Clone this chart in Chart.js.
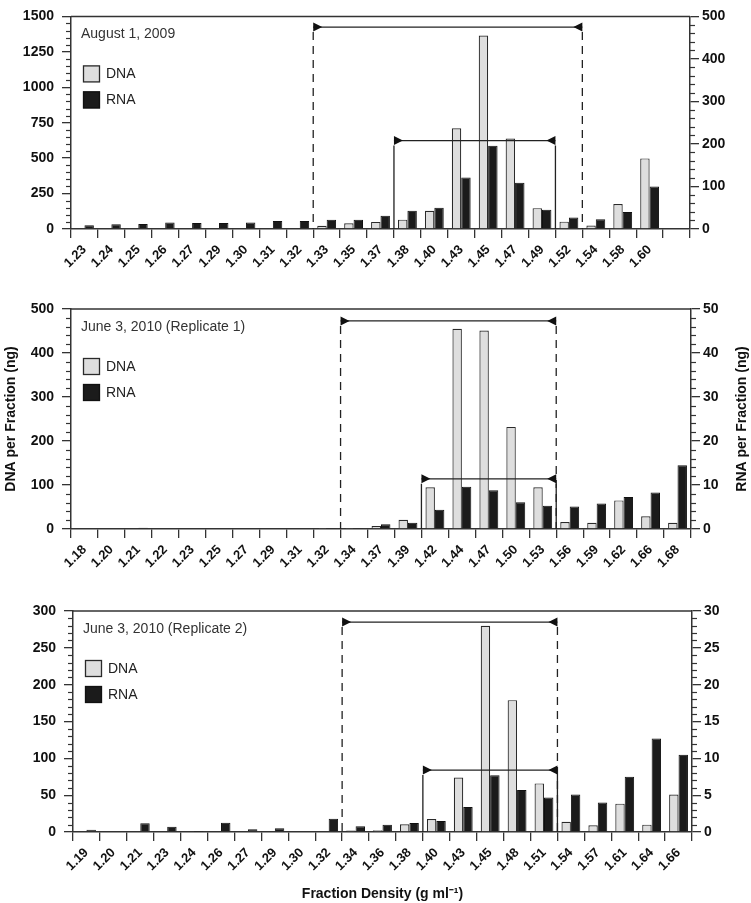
<!DOCTYPE html>
<html>
<head>
<meta charset="utf-8">
<script src="https://cdn.jsdelivr.net/npm/chart.js@4.4.1/dist/chart.umd.min.js"></script>
<style>
  body { margin: 0; background: #fff; }
  #page { position: relative; width: 751px; height: 903px; overflow: hidden; }
  canvas { position: absolute; left: 0; }
</style>
</head>
<body>
<div id="page">
  <canvas id="p1" width="751" height="280" style="top:0"></canvas>
  <canvas id="p2" width="751" height="300" style="top:280px"></canvas>
  <canvas id="p3" width="751" height="333" style="top:570px"></canvas>
</div>
<script>
// ---- data ----
const aug2009Labels = ['1.23','1.24','1.25','1.26','1.27','1.29','1.30','1.31','1.32','1.33','1.35','1.37','1.38','1.40','1.43','1.45','1.47','1.49','1.52','1.54','1.58','1.60',''];
const aug2009Dna = [0,0,0,0,0,0,0,0,7,23,41,50,66,129,710,1365,638,147,52,25,176,498,null];
const aug2009Rna = [9,11,12,15,14,14,15,19,19,22,22,31,43,50,121,196,109,45,27,23,40,100,null];

const rep1Labels = ['1.18','1.20','1.21','1.22','1.23','1.25','1.27','1.29','1.31','1.32','1.34','1.37','1.39','1.42','1.44','1.47','1.50','1.53','1.56','1.59','1.62','1.66','1.68'];
const rep1Dna = [0,0,0,0,0,0,0,0,0,1,1,7,21,95,455,451,232,95,16,14,65,29,14];
const rep1Rna = [0,0,0.3,0,0,0,0,0,0,0.2,0.2,1.1,1.4,4.4,9.6,8.8,6.1,5.3,5.1,5.8,7.3,8.3,14.5];

const rep2Labels = ['1.19','1.20','1.21','1.23','1.24','1.26','1.27','1.29','1.30','1.32','1.34','1.36','1.38','1.40','1.43','1.45','1.48','1.51','1.54','1.57','1.61','1.64','1.66'];
const rep2Dna = [0,0,0,0,0,0,0,0,0,1,2,2.3,10.4,17.7,74,280,179,66,14,9,38.5,10,51];
const rep2Rna = [0.3,0.1,1.2,0.7,0.05,1.27,0.36,0.5,0,1.8,0.77,1.0,1.22,1.5,3.4,7.7,5.7,4.7,5.1,4.0,7.5,12.7,10.5];

// bracket annotations: category boundaries (index +/- 0.5) and height on the DNA axis
const aug2009Brackets = [{from: 8.5, to: 18.5, y: 1425, dashed: true}, {from: 11.5, to: 17.5, y: 624, dashed: false}];
const rep1Brackets = [{from: 9.5, to: 17.5, y: 473, dashed: true}, {from: 12.5, to: 17.5, y: 114, dashed: false}];
const rep2Brackets = [{from: 9.5, to: 17.5, y: 285, dashed: true}, {from: 12.5, to: 17.5, y: 84, dashed: false}];

const FONT = '"Liberation Sans", Arial, Helvetica, sans-serif';
const AXIS = '#333';
Chart.defaults.font.family = FONT;
Chart.defaults.color = '#111';

const decor = {
  id: 'decor',
  afterDatasetsDraw(chart, args, opt) {
    const ctx = chart.ctx, a = chart.chartArea;
    const x = chart.scales.x, y = chart.scales.y, y1 = chart.scales.y1;
    ctx.save();
    // top frame line
    ctx.strokeStyle = AXIS;
    ctx.lineWidth = 1.5;
    ctx.beginPath();
    ctx.moveTo(a.left, a.top);
    ctx.lineTo(a.right, a.top);
    ctx.stroke();

    // minor ticks
    ctx.lineWidth = 1.2;
    [[y, opt.minorY, opt.majorY, -1, a.left], [y1, opt.minorY1, opt.majorY1, 1, a.right]].forEach(function (t) {
      const s = t[0], minor = t[1], major = t[2], dir = t[3], x0 = t[4];
      const n = Math.round(s.max / minor);
      for (let k = 0; k <= n; k++) {
        const v = k * minor;
        if (Math.abs(v / major - Math.round(v / major)) < 1e-6) continue;
        const p = Math.round(s.getPixelForValue(v)) + 0.5;
        ctx.beginPath();
        ctx.moveTo(x0, p);
        ctx.lineTo(x0 + dir * 5, p);
        ctx.stroke();
      }
    });

    // brackets
    const base = y.getPixelForValue(0);
    opt.brackets.forEach(function (b) {
      const py = y.getPixelForValue(b.y);
      const x1 = x.getPixelForValue(b.from), x2 = x.getPixelForValue(b.to);
      ctx.strokeStyle = '#222';
      ctx.fillStyle = '#111';
      ctx.lineWidth = 1.3;
      ctx.setLineDash(b.dashed ? [8, 6] : []);
      ctx.beginPath();
      ctx.moveTo(x1, py + 5); ctx.lineTo(x1, base);
      ctx.moveTo(x2, py + 5); ctx.lineTo(x2, base);
      ctx.stroke();
      ctx.setLineDash([]);
      ctx.beginPath();
      ctx.moveTo(x1, py); ctx.lineTo(x2, py);
      ctx.stroke();
      ctx.beginPath();
      ctx.moveTo(x1, py - 4.5); ctx.lineTo(x1 + 9, py); ctx.lineTo(x1, py + 4.5); ctx.closePath();
      ctx.moveTo(x2, py - 4.5); ctx.lineTo(x2 - 9, py); ctx.lineTo(x2, py + 4.5); ctx.closePath();
      ctx.fill();
    });

    // panel caption and legend
    ctx.textBaseline = 'middle';
    ctx.textAlign = 'left';
    ctx.font = '14px ' + FONT;
    ctx.fillStyle = '#333';
    ctx.fillText(opt.caption, a.left + 10, a.top + 18);
    chart.data.datasets.forEach(function (ds, i) {
      const by = a.top + 49 + i * 26;
      ctx.fillStyle = ds.backgroundColor;
      ctx.fillRect(a.left + 12, by, 17, 17);
      ctx.strokeStyle = ds.borderColor;
      ctx.lineWidth = 1.3;
      ctx.strokeRect(a.left + 12.5, by + 0.5, 16, 16);
      ctx.fillStyle = '#222';
      ctx.fillText(ds.label, a.left + 35, by + 9);
    });

    // right axis title, reading bottom to top
    if (opt.rightTitle) {
      ctx.translate(chart.width - 9, (a.top + a.bottom) / 2);
      ctx.rotate(-Math.PI / 2);
      ctx.textAlign = 'center';
      ctx.font = 'bold 14px ' + FONT;
      ctx.fillStyle = '#111';
      ctx.fillText(opt.rightTitle, 0, 0);
    }
    ctx.restore();
  }
};

function plain(v) { return String(v); }

function panel(id, p) {
  return new Chart(document.getElementById(id), {
    type: 'bar',
    data: {
      labels: p.labels,
      datasets: [{
        label: 'DNA',
        data: p.dna,
        yAxisID: 'y',
        backgroundColor: '#dedede',
        borderColor: '#2a2a2a',
        borderWidth: 1.2,
        categoryPercentage: 0.7,
        barPercentage: 1.0
      }, {
        label: 'RNA',
        data: p.rna,
        yAxisID: 'y1',
        backgroundColor: '#1b1b1b',
        borderColor: '#111',
        borderWidth: 1,
        categoryPercentage: 0.7,
        barPercentage: 1.0
      }]
    },
    options: {
      responsive: false,
      animation: false,
      layout: { padding: { top: p.padTop, left: 0, right: 0, bottom: 0 } },
      plugins: {
        legend: { display: false },
        tooltip: { enabled: false },
        decor: {
          caption: p.caption,
          brackets: p.brackets,
          minorY: p.dnaMinor, majorY: p.dnaStep,
          minorY1: p.rnaMinor, majorY1: p.rnaStep,
          rightTitle: p.rightTitle
        }
      },
      scales: {
        x: {
          offset: true,
          grid: { offset: true, drawOnChartArea: false, tickLength: 9, color: AXIS, lineWidth: 1.3 },
          border: { color: AXIS, width: 1.5 },
          ticks: { autoSkip: false, maxRotation: 45, minRotation: 45, padding: 4, font: { size: 13, weight: 'bold' } },
          title: { display: !!p.xTitle, text: p.xTitle, font: { size: 14, weight: 'bold' }, padding: { top: 0, bottom: 0 } },
          afterFit: function (s) { s.height = p.xHeight; }
        },
        y: {
          position: 'left',
          min: 0, max: p.dnaMax,
          grid: { drawOnChartArea: false, tickLength: 9, color: AXIS, lineWidth: 1.3 },
          border: { color: AXIS, width: 1.5 },
          ticks: { stepSize: p.dnaStep, padding: 8, font: { size: 14, weight: 'bold' }, callback: plain },
          title: { display: !!p.leftTitle, text: p.leftTitle, font: { size: 14, weight: 'bold' }, padding: { top: 3, bottom: 0 } },
          afterFit: function (s) { s.width = p.leftWidth; }
        },
        y1: {
          position: 'right',
          min: 0, max: p.rnaMax,
          grid: { drawOnChartArea: false, tickLength: 9, color: AXIS, lineWidth: 1.3 },
          border: { color: AXIS, width: 1.5 },
          ticks: { stepSize: p.rnaStep, padding: 3, font: { size: 14, weight: 'bold' }, callback: plain },
          afterFit: function (s) { s.width = p.rightWidth; }
        }
      }
    },
    plugins: [decor]
  });
}

panel('p1', {
  labels: aug2009Labels, dna: aug2009Dna, rna: aug2009Rna, brackets: aug2009Brackets,
  caption: 'August 1, 2009',
  dnaMax: 1500, dnaStep: 250, dnaMinor: 50,
  rnaMax: 500, rnaStep: 100, rnaMinor: 20,
  padTop: 8, xHeight: 51, leftWidth: 71, rightWidth: 61
});

panel('p2', {
  labels: rep1Labels, dna: rep1Dna, rna: rep1Rna, brackets: rep1Brackets,
  caption: 'June 3, 2010 (Replicate 1)',
  dnaMax: 500, dnaStep: 100, dnaMinor: 20,
  rnaMax: 50, rnaStep: 10, rnaMinor: 2,
  leftTitle: 'DNA per Fraction (ng)', rightTitle: 'RNA per Fraction (ng)',
  padTop: 29, xHeight: 51, leftWidth: 71, rightWidth: 60
});

panel('p3', {
  labels: rep2Labels, dna: rep2Dna, rna: rep2Rna, brackets: rep2Brackets,
  caption: 'June 3, 2010 (Replicate 2)',
  dnaMax: 300, dnaStep: 50, dnaMinor: 10,
  rnaMax: 30, rnaStep: 5, rnaMinor: 1,
  xTitle: 'Fraction Density (g ml\u207B\u00B9)',
  padTop: 41, xHeight: 71, leftWidth: 73, rightWidth: 59
});
</script>
</body>
</html>
